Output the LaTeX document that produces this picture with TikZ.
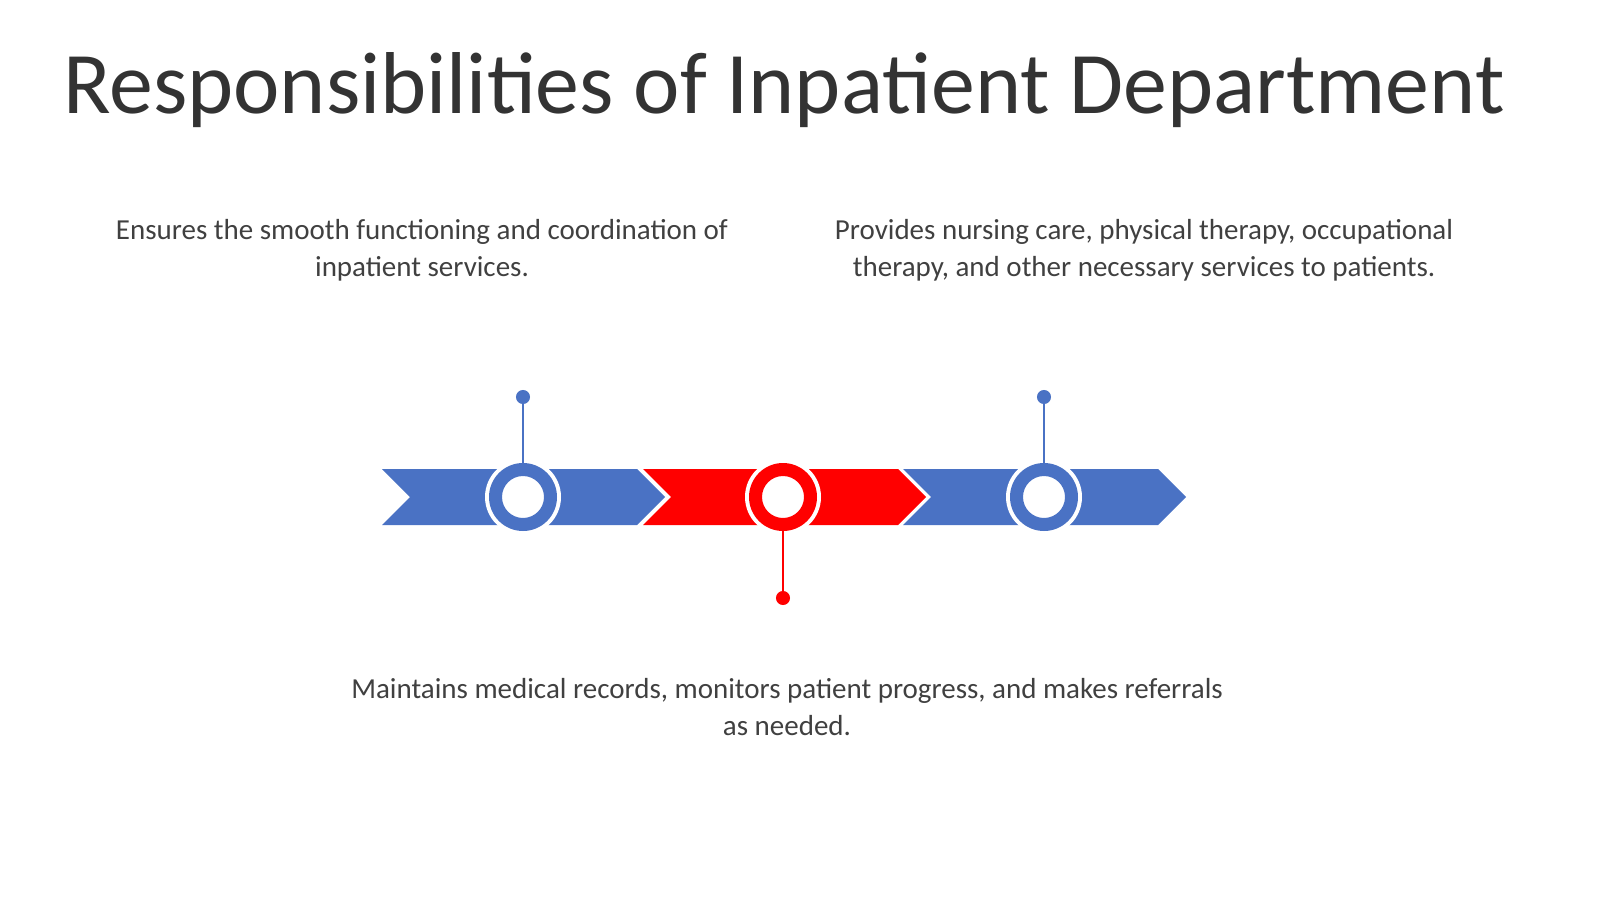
\documentclass[tikz,border=0pt]{standalone}
\usepackage{fontspec}
\setmainfont{Carlito}
\usetikzlibrary{calc}
\definecolor{tlblue}{RGB}{74,114,196}
\definecolor{tlred}{RGB}{255,0,0}
\definecolor{txt}{RGB}{64,64,64}
\begin{document}
\begin{tikzpicture}[x=0.02cm,y=-0.02cm]
\tikzstyle{desc}=[text=txt,font=\fontsize{16.5}{21}\selectfont,align=center]
\tikzstyle{pin}=[circle,inner sep=0pt,minimum size=8pt]
\useasboundingbox (0,0) rectangle (1600,899);
\draw (784,90) node [text=txt!80!black,font=\fontsize{50}{60}\selectfont] (title) {Responsibilities of Inpatient Department};
\draw (422,250) node [desc] (t1) {Ensures the smooth functioning and coordination of\\inpatient services.};
\draw (1144,250) node [desc] (t2) {Provides nursing care, physical therapy, occupational\\therapy, and other necessary services to patients.};
\draw (787,707) node [desc] (t3) {Maintains medical records, monitors patient progress, and makes referrals\\as needed.};
% chevrons
\foreach \x/\c in {382/tlblue,643/tlred,903/tlblue}
  \fill [\c] (\x,469) -- (\x+255,469) -- (\x+283,497) -- (\x+255,525) -- (\x,525) -- (\x+28,497) -- cycle;
% rings and pins
\foreach \x/\c/\n in {523/tlblue/a,783/tlred/b,1044/tlblue/c} {
  \fill [white] (\x,497) circle (38);
  \fill [\c,even odd rule] (\x,497) circle (34) (\x,497) circle (21);
  \coordinate (r\n) at (\x,497);
}
\node [pin,fill=tlblue] (pa) at (523,397) {};
\node [pin,fill=tlblue] (pc) at (1044,397) {};
\node [pin,fill=tlred] (pb) at (783,598) {};
\draw [tlblue,line width=1.2pt] (pa) -- ($(ra)+(0,-34)$);
\draw [tlblue,line width=1.2pt] (pc) -- ($(rc)+(0,-34)$);
\draw [tlred,line width=1.2pt] (pb) -- ($(rb)+(0,34)$);
\end{tikzpicture}
\end{document}
